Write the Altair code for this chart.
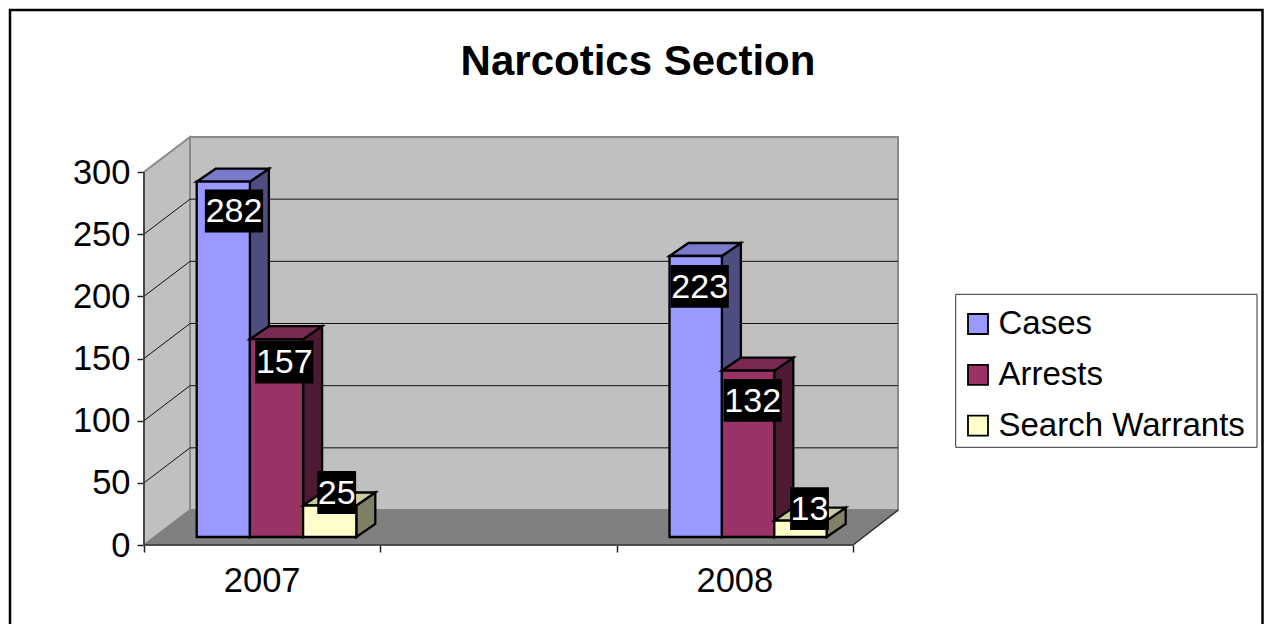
import altair as alt
import pandas as pd

TITLE = "Narcotics Section"
CATEGORIES = ["2007", "", "2008"]
SERIES = ["Cases", "Arrests", "Search Warrants"]
CASES = [282, None, 223]
ARRESTS = [157, None, 132]
WARRANTS = [25, None, 13]
FILLS = ["#9999FF", "#993366", "#FFFFCC"]
TOPS = ["#7A7ACC", "#7A2952", "#CCCCA3"]
SIDES = ["#4D4D80", "#4D1A33", "#808066"]
Y_TICKS = [0, 50, 100, 150, 200, 250, 300]
X_TICKS = [0, 1, 2, 3]
GRID_VALUES = [50, 100, 150, 200, 250]
# label nudges in px from the bar's front-top centre (series x category)
LABEL_DX = [[10.7, None, 4], [7.8, None, 4.6], [7, None, 9]]
LABEL_DY = [[29.3, None, 30.3], [22.8, None, 29.6], [-13, None, -12]]

FONT = "Liberation Sans"
W, H = 754, 408
CAT_PX = 236.33        # px per category
VAL_PX = 373 / 300     # px per value unit
DEPTH_X, DEPTH_Y = 46, 35
BAR_LEFT, BAR_LIFT = 52.7, 8
BAR_W = [53.2, None, 52.4]
BAR_DX, BAR_DY = 19, 13
STRETCH = 1.0134


def xu(px):
    return px / CAT_PX


def yu(px):
    return px / VAL_PX


XS = alt.Scale(domain=[0, xu(W)], nice=False, zero=False)
YS = alt.Scale(domain=[0, yu(H)], nice=False, zero=False)
XAX = alt.Axis(values=X_TICKS, labels=False, domain=False, grid=False, tickSize=7,
               tickColor="#222222", tickWidth=1.5, title=None)
YAX = alt.Axis(values=Y_TICKS, domain=False, grid=False, tickSize=7, tickColor="#222222",
               tickWidth=1.5, labelFont=FONT, labelFontSize=34.5, labelColor="black",
               labelPadding=7, labelOffset=1, title=None)


def X(f="x"):
    return alt.X(f"{f}:Q", scale=XS, axis=XAX)


def Y(f="y"):
    return alt.Y(f"{f}:Q", scale=YS, axis=YAX)


def para(x0, x1, y, dx, dy, group):
    """Rows of an area for a flat face sheared back: front edge x0..x1 at height y,
    swept back by (dx, dy)."""
    rows = []
    for x in sorted({x0, x1, x0 + dx, x1 + dx}):
        lo = y if x <= x1 else y + dy * (x - x1) / dx
        hi = y + dy * (x - x0) / dx if x < x0 + dx else y + dy
        rows.append({"x": xu(x), "y": yu(lo), "y2": yu(hi), "g": group})
    return rows


def area(rows, fill, stroke, sw):
    return alt.Chart(pd.DataFrame(rows)).mark_area(
        orient="vertical", fill=fill, stroke=stroke, strokeWidth=sw, strokeJoin="miter"
    ).encode(x=X(), y=Y(), y2="y2:Q", detail="g:N")


layers = []
one = pd.DataFrame({"a": [0]})

# outer frame
layers.append(alt.Chart(one).mark_rect(filled=False, stroke="black", strokeWidth=2.5).encode(
    x=alt.value(-134), x2=alt.value(1118.5), y=alt.value(-127), y2=alt.value(520)))

# legend box
layers.append(alt.Chart(one).mark_rect(fill="white", stroke="#333333", strokeWidth=1).encode(
    x=alt.value(811.7), x2=alt.value(1113), y=alt.value(157.3), y2=alt.value(310.3)))

# walls and floor
front_w = 3 * CAT_PX
wall_h = 300 * VAL_PX
layers.append(area([{"x": xu(DEPTH_X), "y": yu(DEPTH_Y), "y2": yu(DEPTH_Y + wall_h), "g": "back"},
                    {"x": xu(W), "y": yu(DEPTH_Y), "y2": yu(DEPTH_Y + wall_h), "g": "back"}],
                   "#C0C0C0", "#8A8A8A", 2))
layers.append(area([{"x": 0, "y": 0, "y2": yu(wall_h), "g": "side"},
                    {"x": xu(DEPTH_X), "y": yu(DEPTH_Y), "y2": yu(DEPTH_Y + wall_h), "g": "side"}],
                   "#C0C0C0", "#8A8A8A", 2))
layers.append(area(para(0, front_w, 0, DEPTH_X, DEPTH_Y, "floor"), "#808080", "#808080", 1))

# gridlines
grid_rows = []
for v in GRID_VALUES:
    p = v * VAL_PX
    for i, (x, y) in enumerate([(0, p), (DEPTH_X, p + DEPTH_Y), (W, p + DEPTH_Y)]):
        grid_rows.append({"x": xu(x), "y": yu(y), "g": str(v), "i": i})
layers.append(alt.Chart(pd.DataFrame(grid_rows)).mark_line(color="#111111", strokeWidth=1).encode(
    x=X(), y=Y(), detail="g:N", order="i:Q"))

# front frame lines
frame_pts = [(0, wall_h), (0, 0), (front_w, 0), (W, DEPTH_Y)]
frame_rows = [{"x": xu(x), "y": yu(y), "i": i} for i, (x, y) in enumerate(frame_pts)]
layers.append(alt.Chart(pd.DataFrame(frame_rows)).mark_line(color="#333333", strokeWidth=1.5).encode(
    x=X(), y=Y(), order="i:Q"))

# bars
VALUES = [CASES, ARRESTS, WARRANTS]
for s, (name, vals) in enumerate(zip(SERIES, VALUES)):
    rows_side, rows_top, rows_front = [], [], []
    for c, v in enumerate(vals):
        if v is None:
            continue
        x0 = c * 236.4 + BAR_LEFT + s * BAR_W[c]
        x1 = x0 + BAR_W[c]
        top = BAR_LIFT + v * VAL_PX * STRETCH
        rows_side += [
            {"x": xu(x1), "y": yu(BAR_LIFT), "y2": yu(top), "g": f"{c}"},
            {"x": xu(x1 + BAR_DX), "y": yu(BAR_LIFT + BAR_DY), "y2": yu(top + BAR_DY), "g": f"{c}"},
        ]
        rows_top += para(x0, x1, top, BAR_DX, BAR_DY, f"{c}")
        rows_front.append({"x": xu(x0), "x2": xu(x1), "y": yu(BAR_LIFT), "y2": yu(top), "s": name})
    layers.append(area(rows_side, SIDES[s], "black", 2.3))
    layers.append(area(rows_top, TOPS[s], "black", 2.3))
    layers.append(alt.Chart(pd.DataFrame(rows_front)).mark_rect(stroke="black", strokeWidth=2.3).encode(
        x=X(), x2="x2:Q", y=Y(), y2="y2:Q",
        color=alt.Color("s:N", scale=alt.Scale(domain=SERIES, range=FILLS), legend=alt.Legend(
            title=None, orient="none", legendX=817.5, legendY=170.5, symbolType="square",
            symbolSize=400, symbolStrokeColor="black", symbolStrokeWidth=1.8, symbolOpacity=1,
            labelFont=FONT, labelFontSize=33, labelColor="black", labelOffset=4, labelLimit=400,
            rowPadding=16.8, padding=0, columnPadding=0))))

# value labels
box_rows, text_rows = [], []
for s, vals in enumerate(VALUES):
    for c, v in enumerate(vals):
        if v is None:
            continue
        x0 = c * 236.4 + BAR_LEFT + s * BAR_W[c]
        top = BAR_LIFT + v * VAL_PX * STRETCH
        cx = x0 + BAR_W[c] / 2 + LABEL_DX[s][c]
        cy = top - LABEL_DY[s][c]
        hw = len(str(v)) * 9.7
        box_rows.append({"x": xu(cx - hw), "x2": xu(cx + hw), "y": yu(cy - 21.4), "y2": yu(cy + 21.4)})
        text_rows.append({"x": xu(cx), "y": yu(cy - 1.5), "t": str(v)})
layers.append(alt.Chart(pd.DataFrame(box_rows)).mark_rect(color="black").encode(
    x=X(), x2="x2:Q", y=Y(), y2="y2:Q"))
layers.append(alt.Chart(pd.DataFrame(text_rows)).mark_text(
    font=FONT, fontSize=34, color="white", align="center", baseline="middle").encode(
    x=X(), y=Y(), text="t:N"))

# category labels
cat_rows = [{"x": i + 0.5, "t": c} for i, c in enumerate(CATEGORIES) if c]
layers.append(alt.Chart(pd.DataFrame(cat_rows)).mark_text(
    font=FONT, fontSize=34.5, color="black", align="center", baseline="alphabetic").encode(
    x=X(), y=alt.value(455), text="t:N"))

chart = alt.layer(*layers).properties(
    width=W, height=H,
    padding={"left": 136, "top": 129, "right": 366, "bottom": 79},
    autosize=alt.AutoSizeParams(type="none"),
    background="white",
    title=alt.TitleParams(TITLE, font=FONT, fontSize=42, fontWeight="bold", color="black",
                          anchor="middle", frame="group", dx=117, offset=-75),
).configure_view(stroke=None)

chart.save("out.html", embed_options={"renderer": "svg", "actions": False})
